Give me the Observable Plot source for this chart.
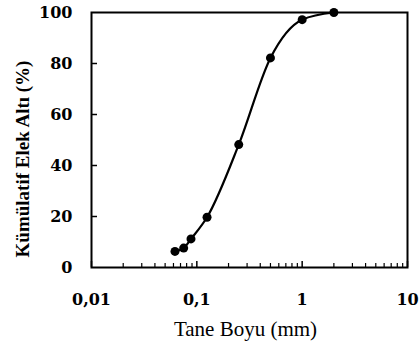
<!DOCTYPE html>
<html><head><meta charset="utf-8">
<script src="https://cdn.jsdelivr.net/npm/d3@7"></script>
<script src="https://cdn.jsdelivr.net/npm/@observablehq/plot@0.6"></script>
<style>body{margin:0;background:#fff}</style>
</head><body><div id="chart"></div>
<script>
const grainSize = [0.062, 0.075, 0.088, 0.125, 0.25, 0.5, 1, 2];
const passing = [6.3, 7.6, 11.2, 19.7, 48.2, 82.2, 97.2, 100];
const xTickValues = [0.01, 0.1, 1, 10];
const xTickLabels = ["0,01", "0,1", "1", "10"];
const xMinorTicks = [0.02,0.03,0.04,0.05,0.06,0.07,0.08,0.09,
                     0.2,0.3,0.4,0.5,0.6,0.7,0.8,0.9,
                     2,3,4,5,6,7,8,9];
const yTickValues = [0, 20, 40, 60, 80, 100];
const yInnerTicks = [20, 40, 60, 80];
const xLabel = "Tane Boyu (mm)";
const yLabel = "Kümülatif Elek Altı (%)";

const data = grainSize.map((x, i) => ({x, y: passing[i]}));

const W = 420, H = 355, ML = 91, MR = 13, MT = 12, MB = 88;
const FW = W - ML - MR, FH = H - MT - MB;
const tickFont = "DejaVu Serif";

const chart = Plot.plot({
  width: W, height: H,
  marginLeft: ML, marginRight: MR, marginTop: MT, marginBottom: MB,
  x: {type: "log", domain: [0.01, 10], axis: null},
  y: {domain: [0, 100], axis: null},
  marks: [
    Plot.tickX(xTickValues, {x: d => d, insetTop: FH - 6, stroke: "black", strokeWidth: 1.5}),
    Plot.tickX(xMinorTicks, {x: d => d, insetTop: FH - 4, stroke: "black", strokeWidth: 1.2}),
    Plot.tickY(yInnerTicks, {y: d => d, insetRight: FW - 6, stroke: "black", strokeWidth: 1.5}),
    Plot.frame({stroke: "black", strokeWidth: 2}),
    Plot.line(data, {x: "x", y: "y", curve: "monotone-x", stroke: "black", strokeWidth: 2.2}),
    Plot.dot(data, {x: "x", y: "y", r: 4.5, fill: "black", stroke: "none"}),
    Plot.text(xTickValues, {x: d => d, frameAnchor: "bottom", dy: 37,
      text: d => xTickLabels[xTickValues.indexOf(d)],
      fontFamily: tickFont, fontWeight: "bold", fontSize: 16, fill: "black"}),
    Plot.text(yTickValues, {y: d => d, frameAnchor: "left", dx: -19, textAnchor: "end",
      text: d => String(d),
      fontFamily: tickFont, fontWeight: "bold", fontSize: 16, fill: "black"}),
    Plot.text([xLabel], {text: d => d, frameAnchor: "bottom", dx: -4, dy: 68,
      fontFamily: "Liberation Serif", fontSize: 21, fill: "black"}),
    Plot.text([yLabel], {text: d => d, frameAnchor: "left", textAnchor: "middle",
      dx: -69, dy: 19, rotate: -90,
      fontFamily: "Liberation Serif", fontWeight: "bold", fontSize: 19, fill: "black",
      letterSpacing: "1.8px"})
  ]
});
document.getElementById("chart").appendChild(chart);
</script>
</body></html>
